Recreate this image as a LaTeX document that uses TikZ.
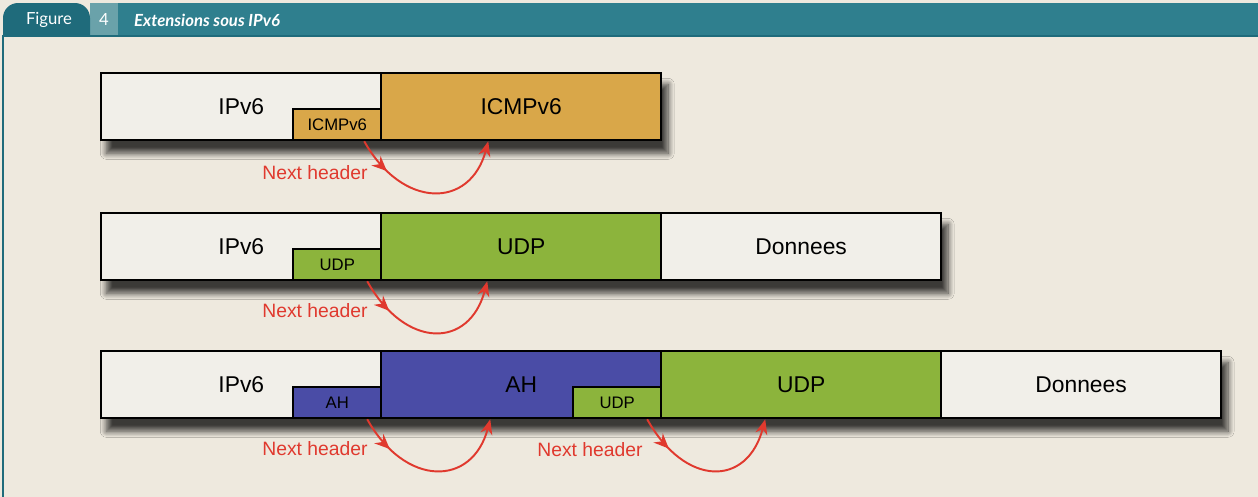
\documentclass[tikz,border=0pt]{standalone}
\usepackage{fontspec}
\setmainfont{Liberation Sans}
\newfontfamily\titlefont{Lato}
\usetikzlibrary{matrix,shadows.blur,arrows.meta,decorations.markings}

\definecolor{paper}{HTML}{EEE9DE}
\definecolor{cell}{HTML}{F1EFE9}
\definecolor{icmp}{HTML}{D9A749}
\definecolor{udp}{HTML}{8CB43C}
\definecolor{ah}{HTML}{4A4CA6}
\definecolor{nhred}{HTML}{E0392E}
\definecolor{headdark}{HTML}{1F6B7B}
\definecolor{headmid}{HTML}{2F7F8E}
\definecolor{headlight}{HTML}{6AA2AA}

\tikzset{
  packet/.style={
    matrix of nodes,
    anchor=north west, inner sep=0pt,
    blur shadow={shadow xshift=0.12cm, shadow yshift=-0.24cm, shadow blur steps=10,
      shadow blur radius=0.12cm, shadow opacity=75},
    nodes={draw, line width=1.1pt, fill=cell, minimum width=5.6cm, minimum height=1.34cm,
      font=\fontsize{13}{15}\selectfont, anchor=center},
    column sep=-1.1pt
  },
  tag/.style={draw, line width=1.1pt, minimum width=1.76cm, minimum height=0.62cm,
    inner sep=0pt, anchor=south east, font=\fontsize{9.5}{11}\selectfont},
  nh/.style={color=nhred, line width=1.1pt, -{Stealth[length=0.3cm, width=0.24cm]},
    postaction={decorate},
    decoration={markings, mark=at position 0.22 with {\arrow{Stealth[length=0.3cm, width=0.26cm]}}}},
  nhlabel/.style={text=nhred, font=\fontsize{11}{13}\selectfont}
}

\begin{document}
\begin{tikzpicture}[x=0.02cm, y=-0.02cm]

\useasboundingbox (0,0) rectangle (1258,497);
\fill[paper] (0,0) rectangle (1258,497);

% title bar
\fill[headmid] (118,3) rectangle (1258,35);
\fill[headlight] (90,3) rectangle (118,35);
\fill[headdark] (3,35) [rounded corners=0.3cm] |- (90,3) [sharp corners] -- (90,35) -- cycle;
\draw[headdark, line width=0.8pt] (3,36) -- (1258,36);
\draw[headdark, line width=1pt] (3,35) -- (3,497);
\node[text=white, font=\titlefont\fontsize{9.5}{11}\selectfont] (figlabel) at (49,20) {Figure};
\node[text=white, font=\titlefont\fontsize{9.5}{11}\selectfont] (fignum) at (104,20) {4};
\node[text=white, anchor=west, font=\titlefont\bfseries\itshape\fontsize{9.5}{11}\selectfont] (figtitle) at (128,20) {Extensions sous IPv6};

% ICMPv6
\matrix (row1) at (100,72) [packet]
{
  IPv6 & |[fill=icmp]| ICMPv6 \\
};
\node[tag, fill=icmp] (tag1) at (row1-1-1.south east) {ICMPv6};
\draw[nh] ([xshift=-0.36cm]tag1.south east) .. controls +(38,68) and +(-18,68) .. ([xshift=2.16cm]row1-1-2.south west);
\node[nhlabel] (nh1) at (315,173) {Next header};

% UDP
\matrix (row2) at (100,212) [packet]
{
  IPv6 & |[fill=udp]| UDP & Donnees \\
};
\node[tag, fill=udp] (tag2) at (row2-1-1.south east) {UDP};
\draw[nh] ([xshift=-0.3cm]tag2.south east) .. controls +(38,68) and +(-18,68) .. ([xshift=2.14cm]row2-1-2.south west);
\node[nhlabel] (nh2) at (315,311) {Next header};

% AH + UDP
\matrix (row3) at (100,350) [packet]
{
  IPv6 & |[fill=ah]| AH & |[fill=udp]| UDP & Donnees \\
};
\node[tag, fill=ah] (tag3) at (row3-1-1.south east) {AH};
\node[tag, fill=udp] (tag4) at (row3-1-2.south east) {UDP};
\draw[nh] ([xshift=-0.3cm]tag3.south east) .. controls +(38,68) and +(-18,68) .. ([xshift=2.2cm]row3-1-2.south west);
\draw[nh] ([xshift=-0.3cm]tag4.south east) .. controls +(38,68) and +(-18,68) .. ([xshift=2.1cm]row3-1-3.south west);
\node[nhlabel] (nh3) at (315,449) {Next header};
\node[nhlabel] (nh4) at (590,450) {Next header};

\end{tikzpicture}
\end{document}
